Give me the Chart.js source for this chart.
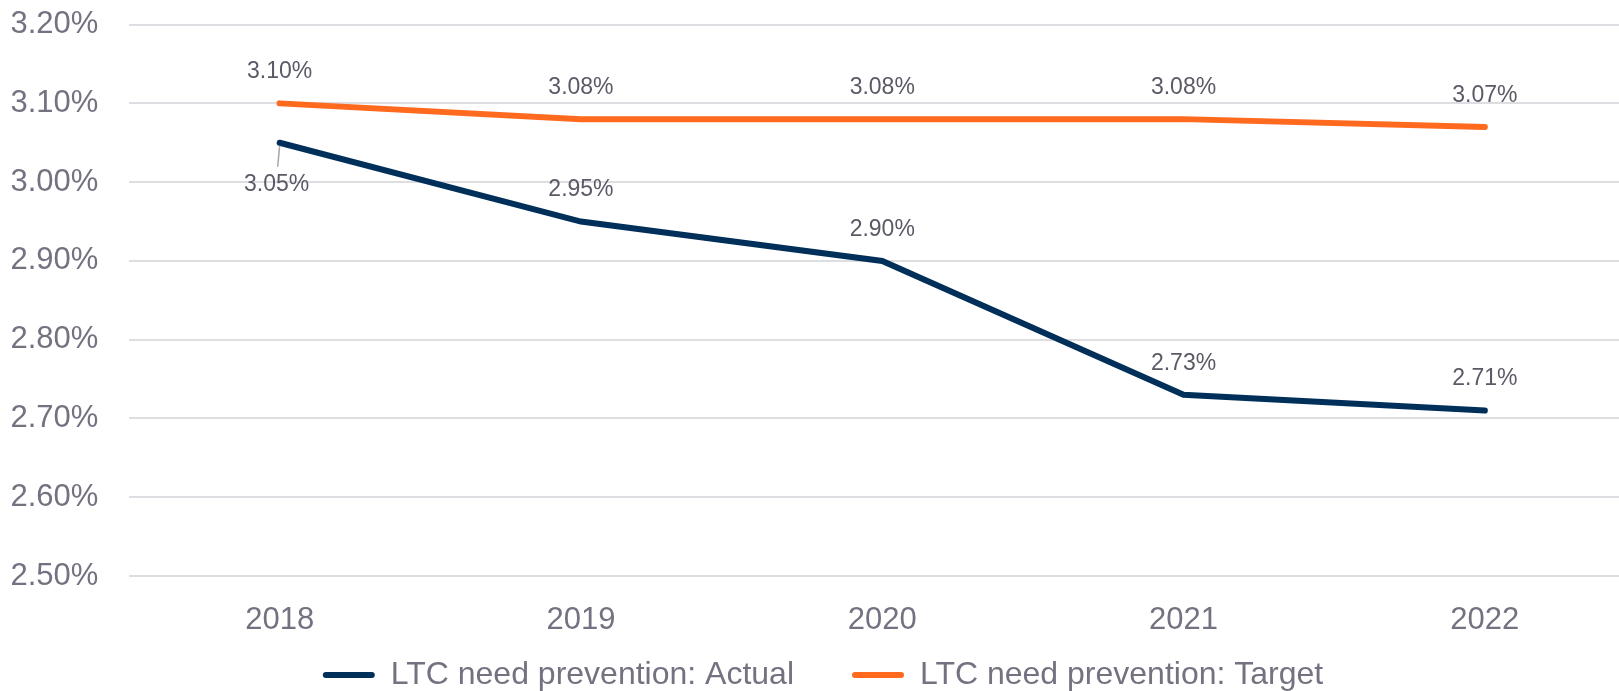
<!DOCTYPE html>
<html>
<head>
<meta charset="utf-8">
<script src="https://cdn.jsdelivr.net/npm/chart.js@4/dist/chart.umd.min.js"></script>
<style>
  html, body { margin: 0; padding: 0; background: #fff; overflow: hidden; }
  canvas { display: block; }
</style>
</head>
<body>
<canvas id="chart" width="1664" height="691"></canvas>
<script>
// data
const years = ["2018", "2019", "2020", "2021", "2022"];
const actual = [3.05, 2.95, 2.90, 2.73, 2.71];
const target = [3.10, 3.08, 3.08, 3.08, 3.07];
const yTicks = [2.5, 2.6, 2.7, 2.8, 2.9, 3.0, 3.1, 3.2];

const FONT = '"Liberation Sans", Arial, sans-serif';
const axisGrey = "#767180";
const labelGrey = "#5c5966";

// value labels over the points (first actual point sits below with a leader line)
const pointLabels = {
  id: "pointLabels",
  afterDatasetsDraw(chart) {
    const ctx = chart.ctx;
    ctx.save();
    ctx.font = "23px " + FONT;
    ctx.fillStyle = labelGrey;
    ctx.textAlign = "center";
    ctx.textBaseline = "middle";
    chart.data.datasets.forEach((ds, di) => {
      chart.getDatasetMeta(di).data.forEach((pt, i) => {
        const txt = ds.data[i].toFixed(2) + "%";
        if (di === 0 && i === 0) {
          ctx.strokeStyle = "#a6a6a6";
          ctx.lineWidth = 1.5;
          ctx.beginPath();
          ctx.moveTo(pt.x, pt.y + 3);
          ctx.lineTo(pt.x - 2, pt.y + 24);
          ctx.stroke();
          ctx.fillText(txt, pt.x - 3, pt.y + 42);
        } else {
          ctx.fillText(txt, pt.x, pt.y - 31.5);
        }
      });
    });
    ctx.restore();
  },
};

// legend uses a wide item padding for the horizontal gap; stretch its box upwards
const legendLift = {
  id: "legendLift",
  afterLayout(chart) {
    chart.legend.top -= 32;
  },
};

const chart = document.getElementById("chart").getContext("2d");

new Chart(chart, {
  type: "line",
  data: {
    labels: years,
    datasets: [
      {
        label: "LTC need prevention: Actual",
        data: actual,
        borderColor: "#00305a",
        backgroundColor: "#00305a",
        borderWidth: 6,
        borderCapStyle: "round",
        pointRadius: 0,
        tension: 0,
      },
      {
        label: "LTC need prevention: Target",
        data: target,
        borderColor: "#ff6a1f",
        backgroundColor: "#ff6a1f",
        borderWidth: 6,
        borderCapStyle: "round",
        pointRadius: 0,
        tension: 0,
      },
    ],
  },
  options: {
    responsive: false,
    animation: false,
    layout: { padding: { top: 0, left: 10.5, right: 28.5, bottom: 0 } },
    plugins: {
      tooltip: { enabled: false },
      legend: {
        position: "bottom",
        maxHeight: 58,
        labels: {
          font: { family: FONT, size: 32 },
          color: axisGrey,
          boxWidth: 52,
          boxHeight: 6,
          padding: 58,
          generateLabels: (c) =>
            Chart.defaults.plugins.legend.labels.generateLabels(c).map((l) => ({
              ...l,
              lineWidth: 0,
              borderRadius: 3,
            })),
          useBorderRadius: true,
          borderRadius: 3,
        },
      },
    },
    scales: {
      x: {
        offset: true,
        grid: { display: false },
        border: { display: false },
        ticks: { font: { family: FONT, size: 31 }, color: axisGrey, padding: 17.5 },
        afterFit: (s) => { s.height = 57; },
      },
      y: {
        min: yTicks[0],
        max: yTicks[yTicks.length - 1],
        afterBuildTicks: (s) => { s.ticks = yTicks.map((v) => ({ value: v })); },
        grid: { color: "#dedde2", lineWidth: 2, drawTicks: false },
        border: { display: false },
        ticks: {
          font: { family: FONT, size: 31 },
          color: axisGrey,
          padding: 6,
          crossAlign: "far",
          callback: (v) => Number(v).toFixed(2) + "%",
        },
        afterFit: (s) => { s.width = 118.5; },
      },
    },
  },
  plugins: [pointLabels, legendLift],
});
</script>
</body>
</html>
